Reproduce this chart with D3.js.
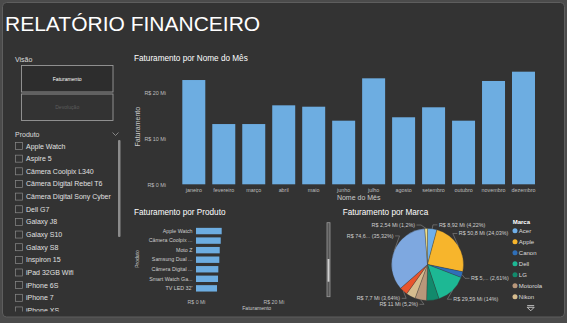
<!DOCTYPE html>
<html><head><meta charset="utf-8">
<script src="https://cdn.jsdelivr.net/npm/d3@7"></script>
<style>
html,body{margin:0;padding:0;background:#4b4b4b;}
svg{display:block;font-family:'Liberation Sans',Arial,sans-serif;}
</style></head><body>
<svg id="c" width="567" height="323"></svg>
<script>
// ---------------- DATA ----------------
const tituloRelatorio = "RELATÓRIO FINANCEIRO";
const visoes = ["Faturamento", "Devolução"];
const produtosSlicer = ["Apple Watch","Aspire 5","Câmera Coolpix L340","Câmera Digital Rebel T6","Câmera Digital Sony Cyber","Dell G7","Galaxy J8","Galaxy S10","Galaxy S8","Inspiron 15","iPad 32GB Wifi","iPhone 6S","iPhone 7","iPhone XS"];

const meses = ["janeiro","fevereiro","março","abril","maio","junho","julho","agosto","setembro","outubro","novembro","dezembro"];
const faturamentoMes = [22.67, 13.1, 13.1, 17.17, 16.87, 13.83, 23.04, 14.57, 16.74, 13.83, 22.46, 24.48];
const ticksMes = [0, 10, 20];

const produtos = ["Apple Watch","Câmera Coolpix ...","Moto Z","Samsung Dual ...","Câmera Digital ...","Smart Watch Ga...","TV LED 32'"];
const faturamentoProduto = [6.64, 6.39, 6.13, 6.03, 5.77, 5.69, 5.43];
const ticksProduto = [0, 20];

const marcas = ["Acer","Apple","Canon","Dell","LG","Motorola","Nikon","Positivo","Samsung","Sony"];
const faturamentoMarca = [8.92, 50.8, 5.51, 29.59, 11.77, 11.0, 8.9, 7.7, 74.67, 2.54];
const coresMarca = ["#6fb0ea","#f7b52c","#2f6fb8","#1db894","#128a6c","#b8977a","#d6bc8e","#e8542d","#7ea8e0","#efe08a"];
const marcasLegenda = ["Acer","Apple","Canon","Dell","LG","Motorola","Nikon"];
const marcasComRotulo = ["Acer","Apple","Canon","Dell","Motorola","Positivo","Samsung","Sony"];
const rotuloTruncado = {"Canon": 2, "Samsung": 4};

// ---------------- LAYOUT ----------------
const svg = d3.select("#c");
const BG = "#333333", BAR = "#6dade1", AX = "#bdbdbd";
const fmtNum = v => String(+v.toFixed(2)).replace(".", ",");

svg.append("rect").attr("width",567).attr("height",323).attr("fill","#4b4b4b");
svg.append("rect").attr("x",2.5).attr("y",2.5).attr("width",562).attr("height",314.5).attr("rx",4)
  .attr("fill",BG).attr("stroke","#5e5e5e");

svg.append("text").attr("x",5).attr("y",31).attr("font-size",21).attr("fill","#fff").text(tituloRelatorio);

// ---------- slicers ----------
svg.append("text").attr("x",15).attr("y",61.5).attr("font-size",7).attr("fill","#ddd").text("Visão");
const vb = svg.append("g").selectAll("g").data(visoes).join("g");
vb.append("rect").attr("x",21.5).attr("y",(d,i)=>65.5+i*28.5).attr("width",91.5).attr("height",26.5)
  .attr("fill",(d,i)=>i===0?"#2d2d2d":"none").attr("stroke","#9a9a9a").attr("stroke-width",0.9);
vb.append("text").attr("x",67.2).attr("y",(d,i)=>80.6+i*28.5).attr("text-anchor","middle")
  .attr("font-size",5.1).attr("fill",(d,i)=>i===0?"#fff":"#5c5c5c").text(d=>d);

svg.append("text").attr("x",15).attr("y",136.5).attr("font-size",7).attr("fill","#ddd").text("Produto");
svg.append("path").attr("d","M112.5,132.5L115.5,135.5L118.5,132.5").attr("fill","none").attr("stroke","#aaa").attr("stroke-width",0.7);

svg.append("clipPath").attr("id","clipList").append("rect").attr("x",0).attr("y",138).attr("width",130).attr("height",173.5);
const lst = svg.append("g").attr("clip-path","url(#clipList)").selectAll("g").data(produtosSlicer).join("g")
  .attr("transform",(d,i)=>`translate(0,${146+i*12.65})`);
lst.append("rect").attr("x",15.5).attr("y",-3.5).attr("width",7).attr("height",7).attr("fill","none").attr("stroke","#8a8a8a").attr("stroke-width",0.7);
lst.append("text").attr("x",26).attr("y",2.5).attr("font-size",7).attr("fill","#e0e0e0").text(d=>d);
svg.append("rect").attr("x",118).attr("y",140).attr("width",2.5).attr("height",97).attr("rx",1).attr("fill","#8c8c8c");

// ---------- month bar chart ----------
svg.append("text").attr("x",134).attr("y",61.3).attr("font-size",8.2).attr("fill","#fff").text("Faturamento por Nome do Mês");
const xM = d3.scaleBand().domain(meses).range([178.8,538.5]).paddingInner(0.233).paddingOuter(0.117);
const yM = d3.scaleLinear().domain([0,25]).range([184.3,69.3]);
svg.append("g").selectAll("rect").data(meses).join("rect")
  .attr("x",d=>xM(d)).attr("width",xM.bandwidth())
  .attr("y",(d,i)=>yM(faturamentoMes[i])).attr("height",(d,i)=>yM(0)-yM(faturamentoMes[i]))
  .attr("fill",BAR);
const gyM = svg.append("g").attr("transform","translate(168,0)")
  .call(d3.axisLeft(yM).tickValues(ticksMes).tickSize(0).tickPadding(2).tickFormat(d=>`R$ ${d} Mi`));
gyM.select(".domain").remove();
gyM.selectAll("text").attr("font-size",5.4).attr("fill",AX).attr("font-family","inherit");
const gxM = svg.append("g").attr("transform",`translate(0,${yM(0)})`)
  .call(d3.axisBottom(xM).tickSize(0).tickPadding(4));
gxM.select(".domain").remove();
gxM.selectAll("text").attr("font-size",5.4).attr("fill",AX).attr("font-family","inherit");
svg.append("text").attr("x",358.7).attr("y",200.2).attr("text-anchor","middle").attr("font-size",7).attr("fill","#ccc").text("Nome do Mês");
svg.append("text").attr("transform","translate(139.5,126.7) rotate(-90)").attr("text-anchor","middle").attr("font-size",7).attr("fill","#ccc").text("Faturamento");

// ---------- product bar chart ----------
svg.append("text").attr("x",134).attr("y",215.3).attr("font-size",8.2).attr("fill","#fff").text("Faturamento por Produto");
const yP = d3.scaleBand().domain(produtos).range([224.7,294.7]).padding(0.33);
const xP = d3.scaleLinear().domain([0,20]).range([196,273.4]);
svg.append("g").selectAll("rect").data(produtos).join("rect")
  .attr("x",xP(0)).attr("y",d=>yP(d)).attr("height",yP.bandwidth())
  .attr("width",(d,i)=>xP(faturamentoProduto[i])-xP(0)).attr("fill",BAR);
const gyP = svg.append("g").attr("transform",`translate(${xP(0)-1.5},0)`)
  .call(d3.axisLeft(yP).tickSize(0).tickPadding(2));
gyP.select(".domain").remove();
gyP.selectAll("text").attr("font-size",5.3).attr("fill","#ccc").attr("font-family","inherit");
const gxP = svg.append("g").attr("transform","translate(0,297)")
  .call(d3.axisBottom(xP).tickValues(ticksProduto).tickSize(0).tickPadding(3).tickFormat(d=>`R$ ${d} Mi`));
gxP.select(".domain").remove();
gxP.selectAll("text").attr("font-size",5.2).attr("fill",AX).attr("font-family","inherit");
svg.append("text").attr("x",256.7).attr("y",310).attr("text-anchor","middle").attr("font-size",5.1).attr("fill","#ccc").text("Faturamento");
svg.append("text").attr("transform","translate(138.5,259) rotate(-90)").attr("text-anchor","middle").attr("font-size",5).attr("fill","#ccc").text("Produto");
svg.append("rect").attr("x",327).attr("y",222.7).attr("width",3).attr("height",74).attr("fill","#555").attr("stroke","#9a9a9a").attr("stroke-width",0.8);
svg.append("rect").attr("x",327.6).attr("y",259).attr("width",1.8).attr("height",22.7).attr("fill","#cfcfcf");

// ---------- pie ----------
svg.append("text").attr("x",342.7).attr("y",215.3).attr("font-size",8.2).attr("fill","#fff").text("Faturamento por Marca");
const cx = 427.5, cy = 264.5, R = 36;
const total = d3.sum(faturamentoMarca);
const pieData = d3.pie().sort(null).value((d,i)=>faturamentoMarca[i])(marcas);
const arc = d3.arc().innerRadius(0).outerRadius(R);
const gp = svg.append("g").attr("transform",`translate(${cx},${cy})`);
gp.selectAll("path").data(pieData).join("path").attr("d",arc)
  .attr("fill",(d,i)=>coresMarca[i]).attr("stroke",BG).attr("stroke-width",0.3);

const nudge = {"Acer":2,"Apple":-9,"Canon":2,"Dell":4.4,"Motorola":-1.4,"Positivo":2.6,"Samsung":-12.8,"Sony":2.5};
const labG = svg.append("g");
pieData.forEach((d,i)=>{
  const m = marcas[i];
  if(!marcasComRotulo.includes(m)) return;
  const a = (d.startAngle+d.endAngle)/2;
  const right = Math.sin(a) >= 0;
  const ly = cy - 42*Math.cos(a) + (nudge[m]||0);
  const dy = Math.max(-39.9, Math.min(39.9, ly-cy));
  const ex = cx + (right?1:-1)*Math.sqrt(40*40 - dy*dy);
  const sx = cx + R*Math.sin(a), sy = cy - R*Math.cos(a);
  const tx = right ? ex + 6 : ex - 6;
  labG.append("path").attr("d",`M${sx},${sy}L${ex},${ly}L${right?tx-1.5:tx+1.5},${ly}`)
    .attr("fill","none").attr("stroke","#9a9a9a").attr("stroke-width",0.5);
  let val = fmtNum(faturamentoMarca[i]);
  if(rotuloTruncado[m] !== undefined) val = val.slice(0, rotuloTruncado[m]) + "...";
  else val = val + " Mi";
  const pct = fmtNum(faturamentoMarca[i]/total*100);
  labG.append("text").attr("x",tx).attr("y",ly+1.9).attr("text-anchor",right?"start":"end")
    .attr("font-size",5.4).attr("fill","#cfcfcf").text(`R$ ${val} (${pct}%)`);
});

// legend
svg.append("text").attr("x",512.7).attr("y",224).attr("font-size",6).attr("font-weight","bold").attr("fill","#fff").text("Marca");
const lg = svg.append("g").selectAll("g").data(marcasLegenda).join("g")
  .attr("transform",(d,i)=>`translate(0,${230.7+i*11})`);
lg.append("circle").attr("cx",515).attr("cy",0).attr("r",2.5).attr("fill",d=>coresMarca[marcas.indexOf(d)]);
lg.append("text").attr("x",518.8).attr("y",2.1).attr("font-size",6).attr("fill","#ddd").text(d=>d);
svg.append("path").attr("d","M527.2,305.6H534.2M527.2,307.3H534.2L530.7,310.8Z").attr("fill","none").attr("stroke","#ddd").attr("stroke-width",0.8);
</script>
</body></html>
